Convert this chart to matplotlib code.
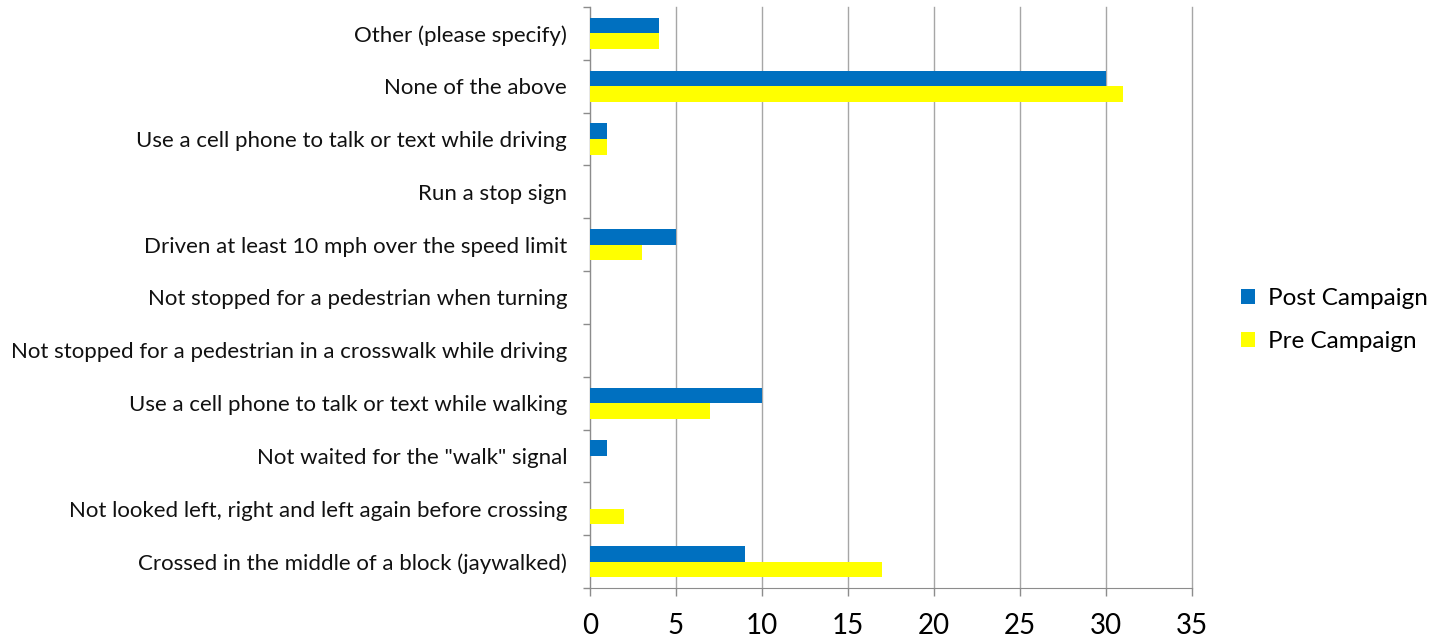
import matplotlib
matplotlib.use("Agg")
import matplotlib.pyplot as plt
import numpy as np

categories = [
    "Crossed in the middle of a block (jaywalked)",
    "Not looked left, right and left again before crossing",
    "Not waited for the \"walk\" signal",
    "Use a cell phone to talk or text while walking",
    "Not stopped for a pedestrian in a crosswalk while driving",
    "Not stopped for a pedestrian when turning",
    "Driven at least 10 mph over the speed limit",
    "Run a stop sign",
    "Use a cell phone to talk or text while driving",
    "None of the above",
    "Other (please specify)",
]
post_campaign = [9, 0, 1, 10, 0, 0, 5, 0, 1, 30, 4]
pre_campaign = [17, 2, 0, 7, 0, 0, 3, 0, 1, 31, 4]
x_ticks = [0, 5, 10, 15, 20, 25, 30, 35]

plt.rcParams['font.family'] = ['Lato', 'DejaVu Sans']

fig = plt.figure(figsize=(14.44, 6.43), dpi=100)
ax = fig.add_axes([590/1444, 1 - 588/643, (1192-590)/1444, (588-7)/643])

y = np.arange(len(categories))
h = 0.295
ax.barh(y + h/2, post_campaign, height=h, color="#0070C0", label="Post Campaign", zorder=3)
ax.barh(y - h/2, pre_campaign, height=h, color="#FFFF00", label="Pre Campaign", zorder=3)

ax.set_xlim(0, 35)
ax.set_ylim(-0.5, len(categories) - 0.5)
ax.set_xticks(x_ticks)
ax.set_xticklabels([str(t) for t in x_ticks], fontsize=20, color="#000000")
ax.set_yticks(y)
ax.set_yticklabels(categories, fontsize=16, color="#111111")
ax.tick_params(axis='y', length=0, pad=16.5)
ax.set_yticks(np.arange(-0.5, len(categories), 1), minor=True)
ax.tick_params(axis='y', which='minor', length=5, color="#8c8c8c", width=1)
ax.tick_params(axis='x', length=6, color="#8c8c8c", width=1, pad=12)

ax.grid(axis='x', color="#a6a6a6", linewidth=1, zorder=0)
for gl in ax.get_xgridlines():
    gl.set_clip_on(False)
for s in ["top", "right"]:
    ax.spines[s].set_visible(False)
for s in ["left", "bottom"]:
    ax.spines[s].set_color("#8c8c8c")

leg = fig.legend(loc="center left", bbox_to_anchor=(1219/1444, 1 - 320/643), frameon=False,
                 fontsize=17.5, handlelength=0.6, handleheight=0.6, labelspacing=0.9, handletextpad=0.5)

fig.savefig("out.png", dpi=100)
